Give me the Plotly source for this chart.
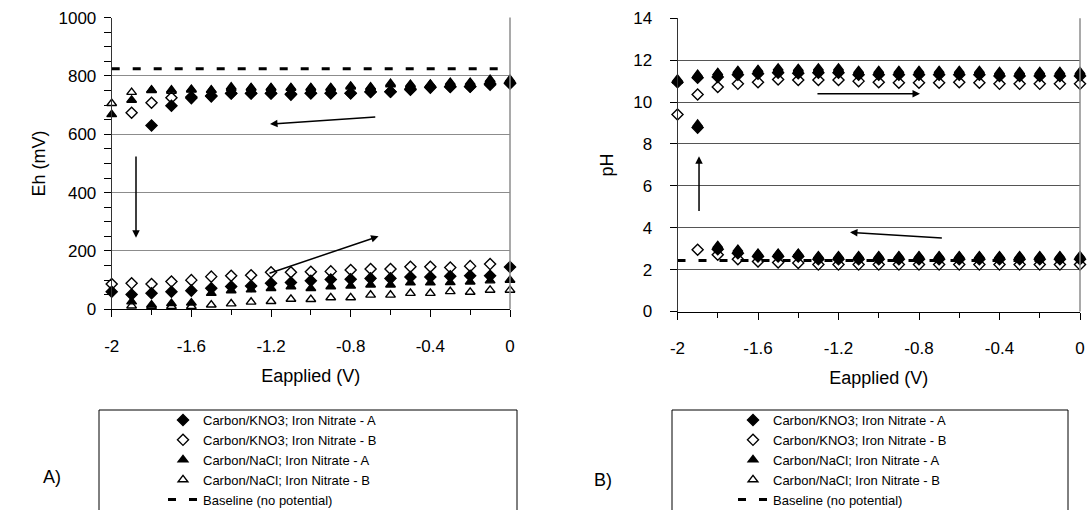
import plotly.graph_objects as go

# ---------------- data ----------------
e_applied = [-2.0, -1.9, -1.8, -1.7, -1.6, -1.5, -1.4, -1.3, -1.2, -1.1, -1.0,
             -0.9, -0.8, -0.7, -0.6, -0.5, -0.4, -0.3, -0.2, -0.1, 0.0]

series_names = ["Carbon/KNO3; Iron Nitrate - A", "Carbon/KNO3; Iron Nitrate - B",
                "Carbon/NaCl; Iron Nitrate - A", "Carbon/NaCl; Iron Nitrate - B"]
baseline_name = "Baseline (no potential)"

# Eh (mV) - upper branch (sweep 0 -> -2) and lower branch (sweep -2 -> 0)
eh_kno3_a_up = [None, None, 630, 698, 724, 730, 741, 741, 741, 736, 741, 741, 741, 746, 746, 755, 762, 764, 764, 773, 776]
eh_kno3_a_dn = [60, 51, 55, 60, 64, 72, 78, 80, 89, 92, 98, 102, 103, 106, 106, 111, 111, 113, 115, 115, 145]
eh_kno3_b_up = [None, 674, 708, 725, 728, 732, 740, 740, 740, 738, 741, 741, 741, 745, 746, 753, 760, 762, 763, 770, 774]
eh_kno3_b_dn = [87, 89, 87, 95, 100, 112, 115, 117, 127, 127, 129, 130, 135, 138, 138, 146, 146, 143, 148, 155, None]
eh_nacl_a_up = [668, 717, 752, 752, 754, 752, 762, 760, 760, 760, 760, 760, 765, 762, 774, 771, 772, 778, 778, 788, 788]
eh_nacl_a_dn = [None, 26, 15, 20, 22, 55, 64, 67, 72, 78, 72, 78, 80, 84, 84, 91, 91, 92, 94, 98, 100]
eh_nacl_b_up = [706, 744, 750, 748, 752, 750, 758, 758, 758, 758, 758, 758, 762, 760, 770, 768, 770, 775, 775, 785, 785]
eh_nacl_b_dn = [None, 12, 10, 10, 10, 15, 19, 25, 27, 35, 34, 40, 40, 49, 49, 55, 55, 61, 59, 66, 66]
eh_baseline = 825

# pH - upper (alkaline) branch and lower (acidic) branch
ph_kno3_a_up = [10.95, 11.16, 11.2, 11.3, 11.35, 11.4, 11.38, 11.4, 11.4, 11.3, 11.3, 11.3, 11.3, 11.3, 11.3, 11.3, 11.25, 11.25, 11.25, 11.25, 11.25]
ph_kno3_a_dn = [None, 8.78, 2.97, 2.78, 2.63, 2.63, 2.63, 2.5, 2.5, 2.5, 2.5, 2.5, 2.5, 2.5, 2.5, 2.5, 2.5, 2.5, 2.5, 2.5, 2.5]
ph_kno3_b_up = [9.41, 10.36, 10.72, 10.87, 10.95, 11.08, 11.05, 11.05, 11.05, 11.0, 10.95, 10.92, 10.92, 10.92, 10.95, 10.92, 10.87, 10.87, 10.87, 10.87, 10.87]
ph_kno3_b_dn = [None, 2.95, 2.71, 2.5, 2.39, 2.34, 2.32, 2.24, 2.24, 2.24, 2.24, 2.24, 2.24, 2.24, 2.24, 2.24, 2.24, 2.24, 2.24, 2.24, 2.24]
ph_nacl_a_up = [11.1, 11.32, 11.4, 11.5, 11.55, 11.62, 11.6, 11.62, 11.62, 11.5, 11.5, 11.5, 11.5, 11.5, 11.5, 11.5, 11.45, 11.45, 11.45, 11.45, 11.45]
ph_nacl_a_dn = [None, 8.94, 3.15, 2.97, 2.78, 2.78, 2.78, 2.66, 2.66, 2.66, 2.66, 2.66, 2.66, 2.66, 2.66, 2.66, 2.66, 2.66, 2.66, 2.66, 2.66]
ph_nacl_b_up = [11.0, 11.28, 11.38, 11.45, 11.5, 11.55, 11.55, 11.55, 11.55, 11.45, 11.45, 11.45, 11.45, 11.45, 11.45, 11.45, 11.4, 11.4, 11.4, 11.4, 11.4]
ph_nacl_b_dn = [None, None, 3.1, 2.9, 2.75, 2.75, 2.75, 2.62, 2.62, 2.62, 2.62, 2.62, 2.62, 2.62, 2.62, 2.62, 2.62, 2.62, 2.62, 2.62, 2.62]
ph_baseline = 2.43

x_tickvals = [-2.0, -1.6, -1.2, -0.8, -0.4, 0.0]
x_ticktext = ["-2", "-1.6", "-1.2", "-0.8", "-0.4", "0"]
eh_tickvals = [0, 200, 400, 600, 800, 1000]
ph_tickvals = [0, 2, 4, 6, 8, 10, 12, 14]

# ---------------- styling ----------------
FONT = "Liberation Sans, Arial, sans-serif"
symbols = ["diamond", "diamond-open", "triangle-up", "triangle-up-open"]
sizes = [8.5, 8.5, 8.5, 8.5]

fig = go.Figure()

eh_sets = [(eh_kno3_a_up, eh_kno3_a_dn), (eh_kno3_b_up, eh_kno3_b_dn),
           (eh_nacl_a_up, eh_nacl_a_dn), (eh_nacl_b_up, eh_nacl_b_dn)]
ph_sets = [(ph_kno3_a_up, ph_kno3_a_dn), (ph_kno3_b_up, ph_kno3_b_dn),
           (ph_nacl_a_up, ph_nacl_a_dn), (ph_nacl_b_up, ph_nacl_b_dn)]

dash_style = "8px,13px"

# baselines first (drawn under markers)
fig.add_trace(go.Scatter(x=[e_applied[0], e_applied[-1]], y=[eh_baseline, eh_baseline],
                         mode="lines", line=dict(color="black", width=3, dash=dash_style),
                         name=baseline_name, legend="legend", legendrank=5,
                         xaxis="x", yaxis="y", hoverinfo="skip"))
fig.add_trace(go.Scatter(x=[e_applied[0], e_applied[-1]], y=[ph_baseline, ph_baseline],
                         mode="lines", line=dict(color="black", width=3, dash=dash_style),
                         name=baseline_name, legend="legend2", legendrank=5,
                         xaxis="x2", yaxis="y2", hoverinfo="skip"))

for i, (up, dn) in enumerate(eh_sets):
    fig.add_trace(go.Scatter(x=e_applied + e_applied, y=up + dn, mode="markers",
                             marker=dict(symbol=symbols[i], size=sizes[i], color="black",
                                         line=dict(color="black", width=1.4)),
                             name=series_names[i], legend="legend", legendrank=i + 1,
                             cliponaxis=False, xaxis="x", yaxis="y"))
for i, (up, dn) in enumerate(ph_sets):
    fig.add_trace(go.Scatter(x=e_applied + e_applied, y=up + dn, mode="markers",
                             marker=dict(symbol=symbols[i], size=sizes[i], color="black",
                                         line=dict(color="black", width=1.4)),
                             name=series_names[i], legend="legend2", legendrank=i + 1,
                             cliponaxis=False, xaxis="x2", yaxis="y2"))

W, H = 1091, 510


def px_x(p):
    return p / W


def px_y(p):
    return 1 - p / H


xaxis_common = dict(range=[-2, 0], tickmode="array", tickvals=x_tickvals, ticktext=x_ticktext,
                    ticks="outside", ticklen=7, tickcolor="black", tickwidth=1,
                    showline=True, linecolor="black", linewidth=1, showgrid=False, zeroline=False,
                    automargin=False,
                    minor=dict(tickmode="linear", tick0=0, dtick=0.2, ticks="outside", ticklen=5,
                               tickcolor="black", showgrid=False),
                    tickfont=dict(family=FONT, size=17, color="black"),
                    ticklabelstandoff=14,
                    title=dict(text="Eapplied (V)", font=dict(family=FONT, size=18, color="black"), standoff=14))

fig.update_layout(
    width=W, height=H,
    margin=dict(l=0, r=0, t=0, b=0, autoexpand=False),
    paper_bgcolor="white", plot_bgcolor="white",
    font=dict(family=FONT, color="black"),
    xaxis=dict(domain=[px_x(111.7), px_x(510)], anchor="y", **xaxis_common),
    yaxis=dict(domain=[px_y(309.3), px_y(17.6)], anchor="x", range=[0, 1000],
               tickmode="array", tickvals=eh_tickvals, automargin=False,
               ticks="outside", ticklen=7, tickcolor="black",
               showline=True, linecolor="#333333", linewidth=1,
               showgrid=True, gridcolor="#8c8c8c", gridwidth=1, zeroline=False,
               minor=dict(tickmode="linear", tick0=0, dtick=50, ticks="outside", ticklen=7,
                          tickcolor="black", showgrid=False),
               tickfont=dict(family=FONT, size=17, color="black"),
               ticklabelstandoff=4,
               title=dict(text="Eh (mV)", font=dict(family=FONT, size=18, color="black"), standoff=8)),
    xaxis2=dict(domain=[px_x(677.5), px_x(1080)], anchor="y2", **xaxis_common),
    yaxis2=dict(domain=[px_y(311.5), px_y(18.3)], anchor="x2", range=[0, 14],
                tickmode="array", tickvals=ph_tickvals, automargin=False,
                ticks="outside", ticklen=7, tickcolor="black",
                showline=True, linecolor="#333333", linewidth=1,
                showgrid=True, gridcolor="#555555", gridwidth=1, zeroline=False,
                tickfont=dict(family=FONT, size=17, color="black"),
                ticklabelstandoff=14,
                title=dict(text="pH", font=dict(family=FONT, size=18, color="black"), standoff=14)),
    legend=dict(x=px_x(163), y=px_y(405), xanchor="left", yanchor="top",
                bgcolor="rgba(0,0,0,0)", borderwidth=0,
                font=dict(family=FONT, size=13, color="black"), tracegroupgap=0),
    legend2=dict(x=px_x(733), y=px_y(405), xanchor="left", yanchor="top",
                 bgcolor="rgba(0,0,0,0)", borderwidth=0,
                 font=dict(family=FONT, size=13, color="black"), tracegroupgap=0),
    showlegend=True,
)

# plot-area borders (right) in gray
for xr, yr in [("x domain", "y domain"), ("x2 domain", "y2 domain")]:
    fig.add_shape(type="line", xref=xr, yref=yr, x0=1, x1=1, y0=0, y1=1,
                  line=dict(color="#8c8c8c", width=1.5))

# legend boxes
fig.add_shape(type="rect", xref="paper", yref="paper", x0=px_x(99), x1=px_x(517),
              y0=px_y(520), y1=px_y(410), line=dict(color="black", width=1))
fig.add_shape(type="rect", xref="paper", yref="paper", x0=px_x(672), x1=px_x(1068),
              y0=px_y(520), y1=px_y(410), line=dict(color="black", width=1))

# panel labels
fig.add_annotation(text="A)", x=px_x(41), y=px_y(489), xref="paper", yref="paper",
                   showarrow=False, font=dict(family=FONT, size=18, color="black"))
fig.add_annotation(text="B)", x=px_x(603), y=px_y(492), xref="paper", yref="paper",
                   showarrow=False, font=dict(family=FONT, size=18, color="black"))

# arrows (data coordinates)
arrow_style = dict(showarrow=True, text="", arrowhead=2, arrowsize=1, arrowwidth=1.5,
                   arrowcolor="black")
fig.add_annotation(xref="x", yref="y", axref="x", ayref="y", x=-1.205, y=635, ax=-0.669, ay=660, **arrow_style)
fig.add_annotation(xref="x", yref="y", axref="x", ayref="y", x=-1.878, y=245, ax=-1.878, ay=529, **arrow_style)
fig.add_annotation(xref="x", yref="y", axref="x", ayref="y", x=-0.66, y=250, ax=-1.215, ay=122, **arrow_style)
fig.add_annotation(xref="x2", yref="y2", axref="x2", ayref="y2", x=-1.893, y=7.41, ax=-1.893, ay=4.73, **arrow_style)
fig.add_annotation(xref="x2", yref="y2", axref="x2", ayref="y2", x=-0.795, y=10.4, ax=-1.312, ay=10.4, **arrow_style)
fig.add_annotation(xref="x2", yref="y2", axref="x2", ayref="y2", x=-1.143, y=3.78, ax=-0.679, ay=3.5, **arrow_style)

fig.write_html("out.html", config={"displayModeBar": False},
               post_script="document.body.style.margin='0';")
